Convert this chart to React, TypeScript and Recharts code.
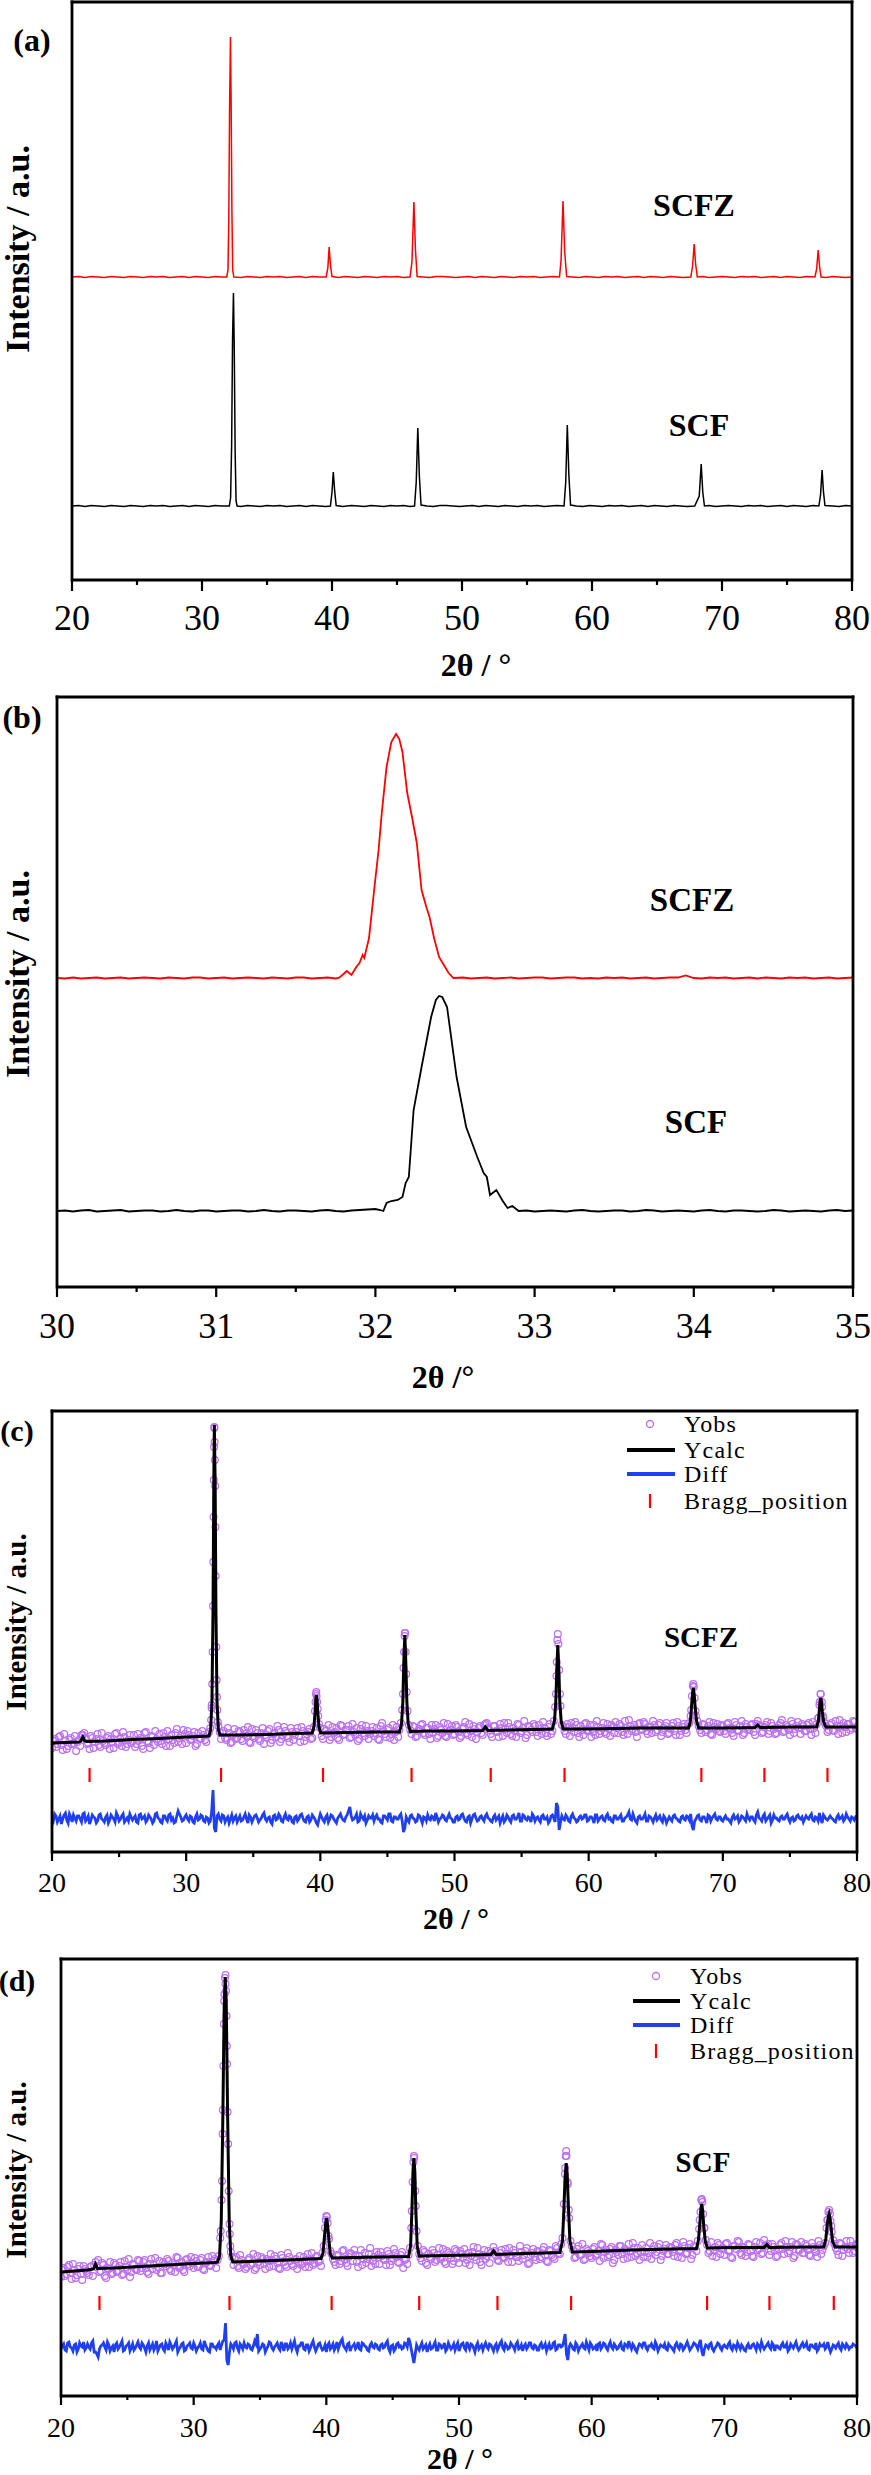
import React from 'react';
import { ComposedChart, Line, Scatter, XAxis, YAxis } from 'recharts';

const SERIF = '"Liberation Serif", "Times New Roman", serif';
const W = 871;

type Pt = { x: number; y: number };
const pairs = (rows: number[][]): Pt[] => rows.map(([x, y]) => ({ x, y }));
// step scans: values at a fixed 2θ step
const stepped = (start: number, step: number, vals: number[]): Pt[] =>
  vals.map((y, i) => ({ x: Math.round((start + i * step) * 100) / 100, y }));
const byX = (a: Pt, b: Pt) => a.x - b.x;

// ---------- (a) full patterns, a.u. (SCFZ stacked above SCF)
const scfzA = [
  [20, 303], [20.5, 303.5], [21, 302.5], [21.5, 303.5], [22, 303], [22.5, 302.5], [23, 303.5], [23.5, 303], [24, 302.5], [24.5, 303.5],
  [25, 303], [25.5, 302.5], [26, 303.5], [26.5, 303], [27, 303.5], [27.5, 302.5], [28, 303], [28.5, 303.5], [29, 302.5], [29.5, 303.5],
  [30, 303], [30.5, 302.5], [31, 303.5], [31.5, 303], [31.9, 303], [32.0, 310], [32.06, 360], [32.12, 470], [32.19, 543], [32.24, 480],
  [32.3, 370], [32.36, 310], [32.45, 303], [33, 302.5], [33.5, 303.5], [34, 303], [34.5, 302.5], [35, 303.5], [35.5, 303], [36, 303.5],
  [36.5, 302.5], [37, 303], [37.5, 303.5], [38, 302.5], [38.5, 303.5], [39, 303], [39.55, 303], [39.68, 312], [39.78, 333], [39.88, 315],
  [40.0, 303.5], [40.5, 302.5], [41, 303.5], [41.5, 303], [42, 302.5], [42.5, 303.5], [43, 303], [43.5, 302.5], [44, 303.5], [44.5, 303],
  [45, 303.5], [45.5, 302.5], [46.0, 303], [46.15, 318], [46.3, 378], [46.42, 330], [46.55, 303.5], [47, 303], [47.5, 302.5], [48, 303.5],
  [48.5, 303.5], [49, 303], [49.5, 302.5], [50, 303], [50.5, 303.5], [51, 302.5], [51.5, 303.5], [52, 303], [52.5, 302.5], [53, 303.5],
  [53.5, 303], [54, 302.5], [54.5, 303.5], [55, 303], [55.5, 303.5], [56, 302.5], [56.5, 303], [57, 303.5], [57.5, 303], [57.62, 320],
  [57.77, 379], [57.9, 328], [58.05, 303.5], [58.5, 303], [59, 302.5], [59.5, 303.5], [60, 303], [60.5, 302.5], [61, 303.5], [61.5, 303],
  [62, 303.5], [62.5, 302.5], [63, 303], [63.5, 303.5], [64, 302.5], [64.5, 303.5], [65, 303], [65.5, 302.5], [66, 303.5], [66.5, 303],
  [67, 302.5], [67.6, 303], [67.74, 314], [67.86, 336], [67.97, 316], [68.1, 303], [68.5, 303.5], [69, 302.5], [69.5, 303], [70, 303.5],
  [70.5, 303], [71, 302.5], [71.5, 303.5], [72, 303], [72.5, 303.5], [73, 302.5], [73.5, 303], [74, 303.5], [74.5, 302.5], [75, 303.5],
  [75.5, 303], [76, 302.5], [76.5, 303.5], [77.15, 303], [77.28, 311], [77.4, 330], [77.5, 314], [77.62, 303], [78, 302.5], [78.5, 303.5],
  [79, 303], [79.5, 302.5], [80, 303],
];
const scfA = [
  [20, 74], [20.5, 74.5], [21, 73.5], [21.5, 74.5], [22, 74], [22.5, 73.5], [23, 74.5], [23.5, 74], [24, 73.5], [24.5, 74.5],
  [25, 74], [25.5, 73.5], [26, 74.5], [26.5, 74], [27, 74.5], [27.5, 73.5], [28, 74], [28.5, 74.5], [29, 73.5], [29.5, 74.5],
  [30, 74], [30.5, 73.5], [31, 74.5], [31.5, 74], [32.1, 74], [32.2, 82], [32.28, 135], [32.35, 240], [32.42, 287], [32.48, 232],
  [32.55, 128], [32.62, 79], [32.7, 74], [33, 73.5], [33.5, 74.5], [34, 74], [34.5, 73.5], [35, 74.5], [35.5, 74], [36, 74.5],
  [36.5, 73.5], [37, 74], [37.5, 74.5], [38, 73.5], [38.5, 74.5], [39, 74], [39.5, 73.5], [39.88, 74], [40.0, 88], [40.1, 108],
  [40.2, 90], [40.32, 74.5], [40.8, 73.5], [41.5, 74.5], [42, 74], [42.5, 73.5], [43, 74.5], [43.5, 74], [44, 73.5], [44.5, 74.5],
  [45, 74], [45.5, 74.5], [46.0, 73.5], [46.35, 74], [46.48, 98], [46.6, 152], [46.72, 104], [46.85, 75], [47.3, 74], [47.8, 73.5],
  [48.3, 74.5], [48.8, 74.5], [49.3, 74], [49.8, 73.5], [50.3, 74], [50.8, 74.5], [51.3, 73.5], [51.8, 74.5], [52.3, 74], [52.8, 73.5],
  [53.3, 74.5], [53.8, 74], [54.3, 73.5], [54.8, 74.5], [55.3, 74], [55.8, 74.5], [56.3, 73.5], [56.8, 74], [57.3, 74.5], [57.85, 74],
  [57.98, 98], [58.1, 155], [58.22, 105], [58.35, 75], [58.8, 74], [59.3, 73.5], [59.8, 74.5], [60.3, 74], [60.8, 73.5], [61.3, 74.5],
  [61.8, 74], [62.3, 74.5], [62.8, 73.5], [63.3, 74], [63.8, 74.5], [64.3, 73.5], [64.8, 74.5], [65.3, 74], [65.8, 73.5], [66.3, 74.5],
  [66.8, 74], [67.3, 73.5], [67.9, 74], [68.25, 84], [68.4, 116], [68.52, 88], [68.65, 74], [69, 74.5], [69.5, 73.5], [70, 74],
  [70.5, 74.5], [71, 74], [71.5, 73.5], [72, 74.5], [72.5, 74], [73, 74.5], [73.5, 73.5], [74, 74], [74.5, 74.5], [75, 73.5],
  [75.5, 74.5], [76, 74], [76.5, 73.5], [77.0, 74.5], [77.45, 74], [77.58, 85], [77.7, 110], [77.8, 89], [77.92, 74.5], [78.5, 74],
  [79, 73.5], [79.5, 74.5], [80, 74],
];

// ---------- (b) 30–35°, 0.05° steps on the flat parts
const scfzBLeft = [
  309, 308.5, 309.5, 308.5, 309, 309.5, 308.5, 309, 309.5, 308.5, 309, 309.5, 309, 308.5, 309.5, 309, 308.5, 309.5,
  309.5, 308.5, 309, 309.5, 308.5, 309, 309.5, 309, 308.5, 309.5, 309, 308.5, 309.5, 309.5, 308.5, 309, 309.5, 308.5,
];
const scfzBPeak = [
  [31.77, 309], [31.8, 313], [31.82, 316], [31.85, 312], [31.88, 320], [31.9, 324], [31.92, 332], [31.93, 329],
  [31.96, 349], [31.99, 394], [32.02, 437], [32.04, 474], [32.07, 520], [32.1, 545], [32.13, 553], [32.15, 548],
  [32.17, 535], [32.2, 494], [32.23, 470], [32.26, 444], [32.29, 397], [32.32, 380], [32.34, 370], [32.37, 348],
  [32.4, 330], [32.43, 322], [32.46, 314], [32.49, 309],
];
const scfzBRight = [
  309.5, 308.5, 309, 309.5, 308.5, 309, 309.5, 308.5, 309, 309.5, 309.5, 308.5, 309, 309.5, 309.5, 308.5, 309, 308.5, 309.5, 309,
  309.5, 308.5, 309, 309.5, 308.5, 309, 309.5, 309.5, 311.5, 309, 308.5, 309.5, 309, 309.5, 308.5, 309, 309.5, 308.5, 309.5, 309,
  308.5, 309.5, 309, 309.5, 308.5, 309, 309.5, 308.5, 309, 309.5,
];
const scfBLeft = [
  76, 76.5, 75.5, 76.5, 77, 75.5, 76, 76.5, 77, 75.5, 76, 76.5, 76.5, 75.5, 76, 77, 76, 75.5, 76.5, 76.5,
  75.5, 76, 76.5, 76.5, 75.5, 76, 77, 76, 75.5, 76.5, 76.5, 76, 75.5, 76.5, 77, 76, 75.5, 76.5, 77, 77.5,
];
const scfBPeak = [
  [32.0, 78], [32.03, 77], [32.05, 76], [32.07, 84], [32.1, 86], [32.14, 87], [32.17, 90], [32.19, 104], [32.21, 110],
  [32.24, 177], [32.29, 220], [32.35, 270], [32.38, 287], [32.4, 291], [32.42, 290], [32.45, 280], [32.51, 210],
  [32.57, 160], [32.64, 130], [32.68, 114], [32.7, 110], [32.72, 92], [32.76, 97], [32.8, 86], [32.83, 79], [32.86, 81], [32.9, 76],
];
const scfBRight = [
  76.5, 75.5, 76, 76.5, 76, 75.5, 76.5, 77, 76, 75.5, 76, 76.5, 76.5, 75.5, 76, 77, 76.5, 75.5, 76, 76.5,
  76, 75.5, 76.5, 77, 76, 75.5, 76.5, 76.5, 76, 75.5, 76, 77, 76.5, 75.5, 76, 76.5, 76, 75.5, 76.5, 77,
  76, 76.5,
];

// ---------- (c) SCFZ Rietveld
const ycalcC = [
  [20, 109], [21, 109.5], [22, 110], [22.15, 111], [22.3, 115], [22.45, 111], [22.6, 110.5], [24, 111], [26, 112.5], [28, 113.5],
  [30, 115], [31, 115.5], [31.7, 116], [31.82, 122], [31.92, 150], [32.0, 240], [32.06, 370], [32.1, 427], [32.16, 370], [32.22, 240],
  [32.3, 150], [32.4, 122], [32.52, 117], [34, 117], [36, 117.5], [38, 118.5], [39.4, 119], [39.52, 125], [39.6, 138], [39.66, 152],
  [39.7, 157], [39.75, 152], [39.82, 138], [39.9, 125], [40.02, 119], [42, 119.5], [44, 120], [45.9, 120], [46.05, 128], [46.15, 150],
  [46.22, 190], [46.3, 217], [46.37, 190], [46.45, 150], [46.55, 128], [46.7, 120.5], [48, 121], [50, 121], [52.1, 121.5], [52.3, 125],
  [52.5, 121.5], [54, 122], [56, 122.5], [57.3, 123], [57.45, 131], [57.55, 150], [57.63, 185], [57.7, 207], [57.77, 185], [57.85, 150],
  [57.95, 131], [58.1, 123], [60, 123], [62, 123.5], [64, 124], [66, 124], [67.45, 124], [67.58, 131], [67.68, 148], [67.75, 160],
  [67.8, 164], [67.86, 158], [67.94, 145], [68.04, 131], [68.2, 124], [70, 124], [72.4, 124.5], [72.6, 127], [72.8, 124.5], [75, 125],
  [77.0, 125], [77.12, 131], [77.2, 143], [77.26, 151], [77.3, 154], [77.35, 150], [77.42, 140], [77.52, 130], [77.68, 125], [80, 125],
];
// observed points, 20.0–80.0 every 0.2°
const yobsCEven = [
  104, 113, 108, 116, 102, 111, 106, 114, 109, 101,
  112, 117, 119, 108, 103, 114, 110, 118, 105, 111,
  107, 116, 113, 104, 119, 110, 106, 115, 108, 117,
  111, 105, 118, 114, 103, 120, 109, 116, 107, 113,
  118, 108, 115, 121, 106, 112, 119, 110, 116, 122,
  109, 117, 113, 120, 108, 114, 121, 112, 118, 124,
  246, 276, 126, 113, 121, 112, 119, 110, 123, 114,
  120, 111, 118, 125, 109, 116, 122, 113, 119, 108,
  115, 123, 112, 119, 126, 110, 117, 121, 114, 124,
  112, 120, 116, 125, 111, 118, 123, 114, 141, 143,
  124, 113, 121, 127, 115, 119, 124, 112, 126, 118,
  122, 114, 128, 117, 111, 123, 119, 126, 113, 121,
  116, 124, 112, 129, 118, 122, 114, 127, 120, 115,
  129, 184, 178, 127, 118, 125, 116, 123, 128, 117,
  124, 113, 120, 127, 116, 122, 129, 115, 121, 126,
  118, 125, 114, 123, 130, 117, 121, 126, 113, 124,
  119, 127, 129, 122, 115, 126, 120, 128, 116, 123,
  129, 118, 124, 115, 127, 121, 131, 117, 125, 120,
  126, 116, 123, 130, 119, 125, 118, 131, 176, 182,
  127, 121, 128, 116, 124, 130, 119, 126, 117, 129,
  122, 115, 127, 131, 118, 124, 120, 128, 116, 125,
  130, 119, 126, 117, 124, 132, 121, 127, 115, 129,
  123, 128, 118, 125, 131, 120, 127, 116, 124, 129,
  119, 126, 121, 130, 117, 125, 122, 128, 136, 168,
  136, 126, 119, 127, 122, 130, 117, 125, 128, 120,
  126, 118, 129, 123, 116, 127, 121, 131, 119, 125,
  122, 128, 117, 131, 126, 120, 127, 118, 129, 123,
  119, 127, 132, 121, 125, 117, 128, 123, 130, 118,
  126, 121, 129, 117, 124, 128, 147, 145, 129, 120,
  127, 122, 131, 118, 126, 129, 120, 128, 124, 130,
  123,
];
// observed points, 20.1–79.9 every 0.2°
const yobsCOdd = [
  111, 105, 115, 107, 118, 103, 112, 108, 116, 110,
  106, 117, 114, 109, 116, 104, 113, 107, 119, 109,
  114, 103, 110, 118, 108, 113, 120, 105, 112, 109,
  117, 108, 112, 106, 119, 111, 104, 115, 121, 110,
  111, 119, 106, 113, 117, 109, 123, 114, 108, 118,
  121, 112, 116, 106, 119, 113, 117, 110, 120, 147,
  425, 155, 120, 119, 114, 124, 109, 117, 113, 121,
  113, 122, 116, 110, 123, 114, 119, 111, 124, 117,
  121, 109, 118, 115, 122, 113, 125, 116, 110, 120,
  117, 124, 110, 121, 115, 120, 113, 125, 160, 128,
  116, 123, 118, 112, 125, 120, 114, 127, 117, 122,
  126, 115, 120, 124, 113, 127, 116, 121, 118, 125,
  119, 113, 126, 121, 115, 124, 118, 112, 125, 122,
  142, 219, 141, 122, 126, 115, 121, 127, 119, 124,
  118, 127, 123, 114, 125, 119, 116, 128, 122, 117,
  127, 120, 116, 125, 119, 128, 115, 123, 120, 126,
  117, 128, 124, 118, 126, 121, 115, 124, 129, 119,
  125, 116, 121, 128, 119, 124, 114, 126, 122, 128,
  120, 127, 118, 124, 116, 128, 121, 145, 218, 146,
  126, 118, 125, 129, 120, 127, 115, 122, 128, 121,
  127, 120, 117, 125, 121, 129, 118, 123, 127, 119,
  124, 128, 120, 131, 118, 126, 123, 120, 128, 122,
  130, 121, 125, 119, 127, 122, 129, 120, 126, 118,
  123, 129, 117, 126, 121, 128, 119, 129, 156, 154,
  131, 122, 128, 120, 126, 118, 129, 123, 121, 127,
  121, 128, 124, 119, 130, 122, 126, 117, 128, 123,
  127, 120, 128, 127, 119, 125, 130, 121, 126, 118,
  124, 129, 120, 127, 122, 131, 119, 126, 124, 128,
  121, 127, 123, 130, 119, 134, 158, 134, 126, 122,
  129, 121, 126, 132, 119, 125, 128, 122, 131, 124,
];
const yobsCPeaks = [
  [31.86, 132], [31.9, 144], [31.94, 168], [31.97, 200], [32.02, 290], [32.04, 335], [32.06, 372], [32.08, 405], [32.1, 424],
  [32.12, 410], [32.14, 392], [32.16, 366], [32.18, 325], [32.24, 205], [32.27, 172], [32.32, 142], [32.36, 130],
  [39.64, 150], [39.68, 158], [39.72, 156], [39.76, 150], [39.84, 136],
  [46.16, 158], [46.24, 200], [46.28, 216], [46.32, 219], [46.36, 200], [46.44, 160],
  [57.56, 158], [57.62, 190], [57.66, 212], [57.74, 208], [57.86, 158],
  [67.64, 142], [67.76, 166], [67.84, 165], [67.96, 141],
  [77.14, 134], [77.22, 150], [77.28, 158], [77.38, 150], [77.46, 136],
];
const diffCEven = [
  34, 38, 30, 36, 33, 39, 29, 35, 37, 31,
  36, 30, 39, 33, 28, 37, 34, 31, 38, 32,
  35, 29, 37, 33, 39, 31, 36, 30, 34, 38,
  32, 36, 29, 38, 34, 30, 37, 33, 31, 39,
  33, 29, 36, 31, 38, 34, 30, 41, 35, 32,
  37, 31, 35, 29, 38, 33, 36, 30, 34, 31,
  62, 20, 38, 31, 36, 33, 29, 37, 34, 30,
  36, 32, 38, 29, 35, 33, 37, 30, 34, 39,
  31, 35, 28, 37, 33, 36, 30, 38, 32, 35,
  29, 36, 33, 38, 31, 35, 30, 37, 33, 27,
  38, 32, 35, 30, 37, 33, 29, 36, 34, 31,
  37, 45, 32, 35, 30, 38, 33, 29, 36, 34,
  31, 37, 33, 29, 36, 32, 38, 30, 35, 33,
  38, 20, 35, 30, 37, 33, 31, 36, 29, 34,
  37, 32, 35, 39, 30, 34, 36, 31, 38, 33,
  30, 36, 33, 38, 31, 35, 29, 37, 34, 32,
  36, 31, 38, 33, 30, 37, 34, 29, 36, 32,
  35, 30, 37, 33, 39, 31, 36, 32, 34, 38,
  31, 35, 30, 37, 33, 29, 36, 34, 49, 22,
  36, 32, 35, 30, 38, 33, 31, 36, 34, 37,
  32, 35, 29, 37, 33, 36, 31, 38, 34, 30,
  36, 33, 37, 31, 35, 40, 32, 34, 29, 36,
  33, 38, 31, 35, 30, 37, 34, 32, 36, 29,
  35, 31, 37, 33, 30, 36, 32, 35, 38, 22,
  33, 37, 31, 35, 29, 36, 34, 38, 32, 35,
  31, 36, 33, 29, 37, 34, 30, 36, 33, 38,
  32, 35, 30, 40, 33, 36, 31, 35, 29, 37,
  34, 31, 36, 33, 38, 30, 35, 32, 37, 33,
  30, 36, 33, 38, 31, 34, 39, 29, 35, 32,
  36, 33, 30, 37, 34, 31, 38, 33, 35, 32,
  34,
];
const diffCOdd = [
  31, 36, 33, 28, 37, 32, 38, 30, 34, 36,
  33, 38, 31, 36, 32, 35, 29, 37, 33, 30,
  37, 32, 35, 30, 36, 33, 38, 32, 31, 35,
  34, 30, 37, 33, 36, 32, 35, 29, 38, 34,
  30, 36, 33, 37, 32, 29, 36, 38, 31, 35,
  33, 36, 30, 35, 32, 37, 31, 35, 29, 40,
  24, 36, 33, 37, 30, 35, 33, 31, 36, 33,
  31, 35, 33, 37, 30, 36, 34, 32, 37, 33,
  34, 30, 36, 32, 38, 31, 35, 33, 36, 30,
  35, 31, 37, 34, 30, 36, 32, 35, 29, 33,
  35, 30, 37, 33, 36, 31, 34, 38, 32, 35,
  41, 36, 33, 38, 31, 35, 36, 32, 34, 37,
  35, 33, 30, 36, 34, 38, 31, 35, 33, 36,
  31, 24, 32, 36, 34, 30, 37, 33, 35, 31,
  33, 36, 31, 35, 33, 37, 32, 35, 34, 30,
  35, 32, 37, 34, 30, 36, 33, 38, 31, 35,
  33, 36, 34, 31, 35, 32, 36, 33, 30, 37,
  32, 36, 33, 35, 31, 37, 33, 35, 30, 36,
  34, 32, 36, 33, 35, 31, 37, 30, 45, 30,
  33, 37, 31, 36, 34, 30, 35, 33, 37, 31,
  35, 33, 37, 31, 35, 32, 36, 33, 31, 36,
  33, 35, 31, 34, 37, 33, 38, 31, 35, 33,
  35, 31, 36, 33, 34, 32, 36, 30, 34, 32,
  33, 36, 34, 31, 35, 33, 36, 32, 26, 31,
  36, 32, 35, 33, 37, 31, 36, 33, 35, 32,
  34, 33, 31, 35, 33, 36, 32, 35, 31, 34,
  35, 32, 37, 34, 31, 38, 33, 37, 32, 34,
  32, 35, 33, 36, 33, 34, 31, 36, 34, 35,
  33, 34, 36, 32, 35, 31, 33, 37, 33, 34,
  34, 31, 35, 33, 36, 33, 35, 31, 34, 35,
];
const braggC = [22.8, 32.6, 40.2, 46.8, 52.7, 58.2, 68.4, 73.1, 77.8];
const braggCLevel = 77;

// ---------- (d) SCF Rietveld
const ycalcD = [
  [20, 124], [21, 125], [22, 126], [22.45, 127], [22.6, 132], [22.75, 127.5], [24, 128], [26, 129.5], [28, 131], [30, 132.5],
  [31.6, 133.5], [31.8, 134], [31.95, 140], [32.08, 175], [32.2, 280], [32.3, 390], [32.38, 419], [32.46, 390], [32.56, 280], [32.68, 175],
  [32.8, 140], [32.95, 134], [35, 135], [37, 136], [39.6, 137.5], [39.75, 143], [39.85, 158], [39.95, 172], [40.02, 178], [40.1, 170],
  [40.2, 155], [40.3, 142], [40.45, 138], [42, 138.5], [44, 139], [46.2, 139.5], [46.35, 150], [46.45, 185], [46.53, 225], [46.6, 238],
  [46.67, 225], [46.75, 185], [46.85, 150], [47.0, 140], [49, 140.5], [51, 141], [52.4, 141.5], [52.6, 145], [52.8, 141.5], [55, 142.5],
  [57.6, 143.5], [57.8, 155], [57.9, 185], [58.0, 220], [58.08, 233], [58.16, 220], [58.26, 185], [58.36, 155], [58.55, 144], [60, 144.5],
  [63, 146], [66, 147], [67.9, 147.5], [68.05, 156], [68.15, 172], [68.24, 188], [68.3, 192], [68.36, 186], [68.45, 170], [68.56, 155],
  [68.72, 148], [71, 148.5], [73, 148.5], [73.2, 151.5], [73.4, 148.5], [76, 149], [77.5, 149], [77.65, 157], [77.76, 172], [77.85, 180],
  [77.9, 182], [77.95, 179], [78.05, 168], [78.16, 155], [78.35, 149], [80, 149],
];
const yobsDEven = [
  119, 128, 122, 131, 117, 126, 121, 130, 116, 127,
  123, 129, 120, 134, 136, 125, 131, 118, 127, 122,
  133, 124, 130, 121, 135, 126, 119, 132, 127, 136,
  125, 134, 128, 122, 137, 131, 126, 135, 123, 132,
  137, 127, 133, 124, 138, 130, 126, 136, 132, 139,
  128, 135, 130, 138, 126, 134, 131, 140, 137, 136,
  158, 286, 412, 252, 144, 131, 139, 128, 136, 132,
  129, 138, 133, 126, 140, 131, 137, 127, 135, 142,
  130, 137, 128, 141, 134, 129, 139, 132, 136, 127,
  140, 133, 129, 142, 135, 131, 139, 134, 130, 150,
  180, 157, 142, 134, 141, 132, 145, 137, 130, 143,
  135, 141, 129, 146, 137, 133, 142, 130, 139, 144,
  132, 140, 136, 145, 131, 138, 143, 134, 141, 128,
  137, 141, 168, 240, 165, 142, 135, 144, 131, 139,
  146, 134, 141, 137, 147, 132, 143, 138, 135, 145,
  133, 142, 147, 136, 131, 144, 139, 148, 134, 141,
  137, 145, 143, 149, 140, 135, 146, 138, 142, 148,
  134, 143, 139, 150, 137, 145, 132, 141, 147, 136,
  144, 139, 149, 135, 146, 141, 137, 148, 142, 158,
  228, 212, 155, 146, 139, 150, 141, 136, 147, 143,
  138, 149, 142, 135, 151, 144, 139, 147, 133, 146,
  141, 150, 137, 145, 152, 139, 148, 143, 136, 151,
  144, 139, 153, 146, 141, 149, 136, 145, 151, 142,
  148, 140, 153, 145, 138, 150, 143, 152, 141, 149,
  155, 184, 182, 156, 143, 154, 146, 139, 151, 147,
  141, 153, 146, 138, 150, 155, 143, 149, 140, 152,
  145, 139, 154, 147, 142, 156, 150, 141, 152, 146,
  140, 151, 147, 155, 143, 149, 138, 152, 146, 154,
  143, 150, 141, 153, 147, 139, 151, 146, 153, 176,
  175, 156, 148, 141, 152, 146, 155, 143, 150, 145,
  152,
];
const yobsDOdd = [
  126, 120, 129, 123, 132, 118, 127, 122, 130, 125,
  121, 130, 131, 129, 124, 133, 120, 128, 134, 123,
  131, 125, 134, 122, 129, 137, 124, 131, 126, 135,
  128, 136, 124, 132, 127, 138, 129, 123, 134, 130,
  135, 125, 131, 139, 128, 134, 124, 137, 130, 133,
  138, 129, 136, 127, 133, 139, 130, 135, 128, 140,
  196, 395, 350, 172, 139, 137, 130, 141, 133, 127,
  136, 131, 142, 128, 134, 139, 132, 137, 129, 136,
  140, 133, 127, 138, 131, 143, 135, 130, 137, 134,
  131, 139, 136, 129, 143, 133, 140, 135, 143, 168,
  173, 145, 137, 131, 140, 135, 146, 133, 139, 142,
  146, 134, 140, 131, 143, 137, 148, 135, 132, 141,
  144, 137, 131, 142, 135, 147, 139, 133, 144, 136,
  132, 148, 214, 205, 150, 138, 146, 133, 142, 137,
  143, 136, 148, 139, 134, 145, 141, 132, 147, 138,
  145, 138, 133, 143, 140, 149, 136, 142, 131, 146,
  140, 133, 144, 145, 136, 143, 139, 147, 134, 141,
  146, 139, 135, 144, 141, 148, 133, 143, 139, 145,
  137, 146, 141, 134, 145, 139, 150, 143, 152, 192,
  240, 178, 150, 138, 147, 141, 152, 137, 145, 140,
  147, 140, 145, 152, 138, 146, 141, 149, 136, 144,
  150, 142, 147, 138, 145, 153, 140, 148, 144, 139,
  148, 143, 137, 150, 144, 152, 140, 147, 142, 149,
  144, 151, 139, 146, 154, 142, 148, 137, 150, 145,
  167, 197, 168, 151, 145, 140, 149, 153, 142, 148,
  152, 145, 139, 150, 147, 154, 141, 148, 144, 151,
  140, 149, 146, 153, 143, 151, 152, 145, 149, 139,
  147, 153, 142, 149, 145, 154, 140, 151, 146, 143,
  152, 146, 140, 149, 144, 155, 142, 150, 168, 186,
  164, 152, 145, 153, 140, 149, 147, 155, 143, 150,
];
const yobsDPeaks = [
  [32.04, 165], [32.14, 215], [32.18, 262], [32.24, 330], [32.28, 372], [32.32, 402], [32.36, 418], [32.4, 421],
  [32.44, 405], [32.48, 380], [32.52, 332], [32.56, 284], [32.64, 205], [32.72, 162], [32.76, 150],
  [39.96, 176], [40.04, 179], [40.16, 160],
  [46.44, 185], [46.56, 234], [46.62, 238], [46.74, 190],
  [57.98, 222], [58.04, 240], [58.08, 245], [58.18, 214], [58.28, 186],
  [68.14, 176], [68.26, 196], [68.34, 194], [68.48, 168],
  [77.76, 176], [77.84, 184], [77.96, 182], [78.06, 170],
];
const diffDEven = [
  47, 52, 45, 54, 48, 51, 44, 53, 49, 46,
  52, 47, 55, 44, 39, 50, 53, 46, 51, 48,
  44, 53, 49, 55, 46, 51, 45, 52, 48, 54,
  47, 51, 44, 53, 49, 46, 55, 48, 52, 45,
  50, 54, 47, 52, 44, 49, 53, 46, 51, 48,
  53, 45, 50, 47, 55, 48, 44, 52, 49, 51,
  46, 55, 73, 31, 52, 47, 54, 45, 50, 53,
  48, 51, 46, 55, 62, 47, 52, 44, 50, 53,
  46, 51, 48, 54, 45, 52, 49, 47, 55, 44,
  50, 53, 46, 51, 48, 55, 45, 52, 49, 47,
  44, 53, 49, 46, 54, 51, 57, 48, 52, 45,
  50, 47, 54, 46, 52, 49, 45, 53, 48, 51,
  46, 52, 49, 55, 44, 51, 47, 53, 50, 48,
  52, 58, 47, 33, 51, 46, 53, 49, 44, 52,
  48, 54, 46, 51, 49, 45, 53, 47, 52, 50,
  45, 52, 48, 54, 47, 51, 44, 53, 49, 46,
  53, 47, 51, 45, 52, 49, 55, 46, 50, 48,
  51, 46, 54, 48, 45, 52, 49, 53, 47, 50,
  46, 53, 49, 45, 52, 48, 54, 47, 51, 50,
  62, 36, 52, 47, 53, 45, 50, 48, 54, 46,
  51, 48, 45, 53, 49, 52, 46, 54, 47, 50,
  48, 53, 46, 51, 55, 47, 50, 44, 52, 49,
  53, 46, 50, 48, 54, 45, 51, 49, 47, 52,
  49, 45, 53, 47, 51, 48, 54, 46, 50, 52,
  47, 56, 40, 51, 48, 53, 45, 50, 52, 46,
  51, 48, 54, 46, 50, 53, 47, 49, 45, 52,
  48, 52, 46, 50, 54, 47, 51, 49, 53, 45,
  50, 47, 53, 49, 45, 52, 48, 54, 46, 51,
  49, 53, 46, 51, 48, 45, 52, 50, 47, 54,
  44, 51, 48, 53, 46, 50, 52, 47, 49, 51,
  48,
];
const diffDOdd = [
  50, 46, 53, 49, 45, 52, 47, 50, 54, 48,
  49, 53, 44, 42, 47, 51, 49, 54, 45, 50,
  51, 47, 52, 45, 50, 53, 48, 46, 51, 49,
  53, 48, 50, 46, 52, 49, 45, 51, 47, 53,
  46, 51, 49, 55, 47, 52, 45, 50, 53, 47,
  50, 48, 53, 46, 51, 45, 52, 49, 47, 53,
  51, 56, 36, 44, 50, 53, 48, 52, 47, 49,
  52, 47, 50, 52, 45, 49, 51, 47, 54, 48,
  49, 53, 46, 50, 52, 47, 53, 51, 48, 50,
  53, 47, 51, 45, 52, 49, 48, 53, 46, 51,
  51, 47, 52, 49, 47, 55, 50, 46, 53, 49,
  52, 49, 47, 53, 50, 46, 51, 49, 52, 47,
  51, 48, 53, 47, 50, 45, 52, 49, 47, 53,
  49, 54, 40, 42, 48, 50, 47, 51, 49, 47,
  51, 46, 52, 48, 53, 47, 50, 49, 46, 53,
  49, 53, 46, 50, 52, 48, 50, 47, 51, 50,
  49, 52, 48, 50, 46, 53, 48, 52, 47, 53,
  49, 52, 47, 51, 50, 47, 53, 48, 51, 46,
  51, 48, 52, 49, 47, 53, 46, 51, 49, 55,
  42, 49, 50, 46, 51, 48, 52, 47, 50, 53,
  47, 50, 52, 47, 53, 48, 51, 49, 52, 47,
  51, 47, 52, 49, 50, 52, 46, 49, 51, 53,
  48, 50, 52, 47, 51, 48, 50, 52, 46, 50,
  47, 51, 49, 52, 46, 51, 50, 48, 53, 50,
  52, 45, 47, 50, 52, 47, 48, 53, 48, 50,
  49, 52, 48, 51, 47, 50, 51, 46, 50, 48,
  51, 49, 52, 47, 50, 49, 53, 47, 51, 50,
  48, 51, 49, 52, 47, 50, 51, 49, 48, 53,
  50, 47, 51, 49, 53, 47, 50, 52, 49, 48,
  47, 50, 51, 48, 52, 48, 50, 49, 52, 50,
];
const braggD = [22.9, 32.7, 40.4, 47.0, 52.9, 58.45, 68.7, 73.4, 78.25];
const braggDLevel = 93;

const wideTicks = [20, 25, 30, 35, 40, 45, 50, 55, 60, 65, 70, 75, 80];
const wideMajors = [20, 30, 40, 50, 60, 70, 80];
const narrowTicks = [30, 30.5, 31, 31.5, 32, 32.5, 33, 33.5, 34, 34.5, 35];
const narrowMajors = [30, 31, 32, 33, 34, 35];

const OBS = '#bb6ff0';
const DIFF = '#1f3ff0';
const RED = '#ff0000';
const FRAME_W = 2.8;

const obsShape = (p: any) => (
  <circle cx={p.cx} cy={p.cy} r={3.4} fill="none" stroke={OBS} strokeWidth={1.2} />
);
const braggShape = (p: any) => (
  <line x1={p.cx} x2={p.cx} y1={p.cy - 7} y2={p.cy + 7} stroke={RED} strokeWidth={2.2} />
);

// page layout of each panel: chart block and its plot box (page pixels)
type Box = { top: number; height: number; l: number; r: number; t: number; b: number; xHeight: number };
const boxA: Box = { top: 0, height: 650, l: 72, r: 852, t: 2, b: 580, xHeight: 60 };
const boxB: Box = { top: 690, height: 670, l: 57, r: 853, t: 697, b: 1287, xHeight: 65 };
const boxC: Box = { top: 1400, height: 520, l: 52, r: 857, t: 1411, b: 1852, xHeight: 60 };
const boxD: Box = { top: 1950, height: 525, l: 61, r: 857, t: 1959, b: 2396, xHeight: 70 };

type PanelProps = {
  box: Box;
  xDomain: [number, number];
  ticks: number[];
  majors: number[];
  yMax: number;
  fontSize: number;
  labelDy: number;
  majorLen: number;
  minorLen: number;
  children: React.ReactNode;
};

function Panel(p: PanelProps) {
  const { box } = p;
  const margin = {
    top: box.t - box.top,
    left: box.l,
    right: W - box.r,
    bottom: box.top + box.height - box.b - box.xHeight,
  };
  const tick = (props: any) => {
    const { x, y, payload } = props;
    const major = p.majors.includes(payload.value);
    return (
      <g>
        <line x1={x} x2={x} y1={y} y2={y + (major ? p.majorLen : p.minorLen)} stroke="#000" strokeWidth={2.2} />
        {major ? (
          <text x={x} y={y + p.labelDy} textAnchor="middle" dominantBaseline="central"
            fontFamily={SERIF} fontSize={p.fontSize} fill="#000">
            {payload.value}
          </text>
        ) : null}
      </g>
    );
  };
  return (
    <div style={{ position: 'absolute', left: 0, top: box.top }}>
      <ComposedChart width={W} height={box.height} margin={margin}>
        <XAxis type="number" dataKey="x" domain={p.xDomain} allowDataOverflow ticks={p.ticks} interval={0}
          tick={tick} tickLine={false} tickSize={0} tickMargin={0} axisLine={{ stroke: '#000', strokeWidth: FRAME_W }}
          height={box.xHeight} />
        <YAxis type="number" dataKey="y" domain={[0, p.yMax]} allowDataOverflow hide />
        {p.children}
      </ComposedChart>
    </div>
  );
}

// plot frame: left, top and right sides drawn as separate lines
function Frame({ box }: { box: Box }) {
  return (
    <g stroke="#000" strokeWidth={FRAME_W} strokeLinecap="square">
      <line x1={box.l} y1={box.t} x2={box.l} y2={box.b} />
      <line x1={box.l} y1={box.t} x2={box.r} y2={box.t} />
      <line x1={box.r} y1={box.t} x2={box.r} y2={box.b} />
    </g>
  );
}

function T({ x, y, s, b, rot, anchor, ls, children }: any) {
  return (
    <text x={x} y={y} fontSize={s} fontWeight={b ? 700 : 400} textAnchor={anchor || 'middle'}
      dominantBaseline="central" fill="#000" letterSpacing={ls}
      transform={rot ? `rotate(-90 ${x} ${y})` : undefined}>
      {children}
    </text>
  );
}

function RietveldLegend({ sx, l0, l1, tx, rows }: { sx: number; l0: number; l1: number; tx: number; rows: number[] }) {
  return (
    <g>
      <circle cx={sx} cy={rows[0]} r={3.5} fill="none" stroke={OBS} strokeWidth={1.3} />
      <line x1={l0} x2={l1} y1={rows[1]} y2={rows[1]} stroke="#000" strokeWidth={4} />
      <line x1={l0} x2={l1} y1={rows[2]} y2={rows[2]} stroke={DIFF} strokeWidth={4} />
      <line x1={sx} x2={sx} y1={rows[3] - 7} y2={rows[3] + 7} stroke={RED} strokeWidth={2.2} />
      <T x={tx} y={rows[0]} s={24} ls={1.2} anchor="start">Yobs</T>
      <T x={tx} y={rows[1]} s={24} ls={1.2} anchor="start">Ycalc</T>
      <T x={tx} y={rows[2]} s={24} ls={1.2} anchor="start">Diff</T>
      <T x={tx} y={rows[3]} s={24} ls={1.2} anchor="start">Bragg_position</T>
    </g>
  );
}

export default function App() {
  const redB = [...stepped(30, 0.05, scfzBLeft), ...pairs(scfzBPeak), ...stepped(32.55, 0.05, scfzBRight)];
  const blackB = [...stepped(30, 0.05, scfBLeft), ...pairs(scfBPeak), ...stepped(32.95, 0.05, scfBRight)];
  const obsC = [...stepped(20, 0.2, yobsCEven), ...stepped(20.1, 0.2, yobsCOdd), ...pairs(yobsCPeaks)];
  const obsD = [...stepped(20, 0.2, yobsDEven), ...stepped(20.1, 0.2, yobsDOdd), ...pairs(yobsDPeaks)];
  const diffC = [...stepped(20, 0.2, diffCEven), ...stepped(20.1, 0.2, diffCOdd)].sort(byX);
  const diffD = [...stepped(20, 0.2, diffDEven), ...stepped(20.1, 0.2, diffDOdd)].sort(byX);
  const braggCPts = braggC.map((x) => ({ x, y: braggCLevel }));
  const braggDPts = braggD.map((x) => ({ x, y: braggDLevel }));

  return (
    <div style={{ position: 'absolute', left: 0, top: 0, width: W, height: 2475, background: '#fff', fontFamily: SERIF }}>
      <Panel box={boxA} xDomain={[20, 80]} ticks={wideTicks} majors={wideMajors} yMax={578}
        fontSize={36} labelDy={38} majorLen={11} minorLen={5}>
        <Line data={pairs(scfA)} dataKey="y" type="linear" stroke="#000" strokeWidth={1.5} dot={false} activeDot={false} isAnimationActive={false} />
        <Line data={pairs(scfzA)} dataKey="y" type="linear" stroke={RED} strokeWidth={1.5} dot={false} activeDot={false} isAnimationActive={false} />
      </Panel>

      <Panel box={boxB} xDomain={[30, 35]} ticks={narrowTicks} majors={narrowMajors} yMax={590}
        fontSize={36} labelDy={39} majorLen={10} minorLen={5}>
        <Line data={blackB} dataKey="y" type="linear" stroke="#000" strokeWidth={1.8} dot={false} activeDot={false} isAnimationActive={false} />
        <Line data={redB} dataKey="y" type="linear" stroke={RED} strokeWidth={1.8} dot={false} activeDot={false} isAnimationActive={false} />
      </Panel>

      <Panel box={boxC} xDomain={[20, 80]} ticks={wideTicks} majors={wideMajors} yMax={441}
        fontSize={28} labelDy={30} majorLen={9} minorLen={5}>
        <Scatter data={obsC} dataKey="y" shape={obsShape} isAnimationActive={false} />
        <Line data={pairs(ycalcC)} dataKey="y" type="linear" stroke="#000" strokeWidth={3} dot={false} activeDot={false} isAnimationActive={false} zIndex={700} />
        <Line data={diffC} dataKey="y" type="linear" stroke={DIFF} strokeWidth={2.8} dot={false} activeDot={false} isAnimationActive={false} />
        <Scatter data={braggCPts} dataKey="y" shape={braggShape} isAnimationActive={false} />
      </Panel>

      <Panel box={boxD} xDomain={[20, 80]} ticks={wideTicks} majors={wideMajors} yMax={437}
        fontSize={28} labelDy={31} majorLen={9} minorLen={4}>
        <Scatter data={obsD} dataKey="y" shape={obsShape} isAnimationActive={false} />
        <Line data={pairs(ycalcD)} dataKey="y" type="linear" stroke="#000" strokeWidth={3} dot={false} activeDot={false} isAnimationActive={false} zIndex={700} />
        <Line data={diffD} dataKey="y" type="linear" stroke={DIFF} strokeWidth={2.8} dot={false} activeDot={false} isAnimationActive={false} />
        <Scatter data={braggDPts} dataKey="y" shape={braggShape} isAnimationActive={false} />
      </Panel>

      <svg width={W} height={2475} style={{ position: 'absolute', left: 0, top: 0, pointerEvents: 'none' }} fontFamily={SERIF}>
        <Frame box={boxA} />
        <Frame box={boxB} />
        <Frame box={boxC} />
        <Frame box={boxD} />
        {/* (a) */}
        <T x={32} y={40} s={32} b>(a)</T>
        <T x={17} y={249} s={34} b rot>Intensity / a.u.</T>
        <T x={694} y={205} s={32} b>SCFZ</T>
        <T x={699} y={425} s={32} b>SCF</T>
        <T x={476} y={665} s={32} b>2θ / °</T>
        {/* (b) */}
        <T x={22} y={717} s={32} b>(b)</T>
        <T x={17} y={974} s={34} b rot>Intensity / a.u.</T>
        <T x={692} y={900} s={33} b>SCFZ</T>
        <T x={696} y={1122} s={33} b>SCF</T>
        <T x={443} y={1377} s={32} b>2θ /°</T>
        {/* (c) */}
        <T x={17} y={1430} s={30} b>(c)</T>
        <T x={16} y={1622} s={29} b rot>Intensity / a.u.</T>
        <T x={701} y={1637} s={29} b>SCFZ</T>
        <T x={456} y={1918} s={30} b>2θ / °</T>
        <RietveldLegend sx={650} l0={627} l1={675} tx={684} rows={[1424, 1450, 1474, 1501]} />
        {/* (d) */}
        <T x={17} y={1980} s={30} b>(d)</T>
        <T x={16} y={2170} s={29} b rot>Intensity / a.u.</T>
        <T x={703} y={2162} s={29} b>SCF</T>
        <T x={460} y={2458} s={30} b>2θ / °</T>
        <RietveldLegend sx={656} l0={633} l1={680} tx={690} rows={[1976, 2001, 2025, 2051]} />
      </svg>
    </div>
  );
}
